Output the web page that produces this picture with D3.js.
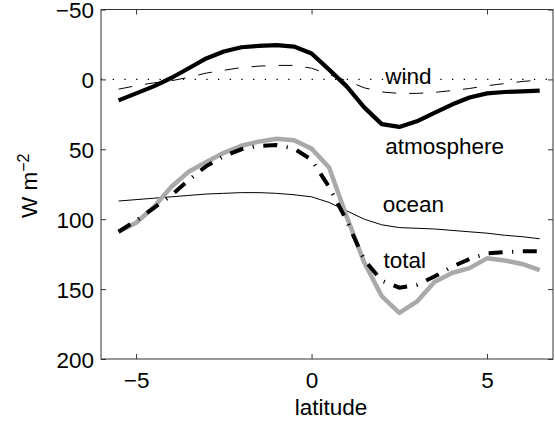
<!DOCTYPE html>
<html>
<head>
<meta charset="utf-8">
<script src="https://cdn.jsdelivr.net/npm/d3@7"></script>
<style>
  html, body { margin: 0; padding: 0; background: #fff; }
  svg { display: block; }
  text { font-family: "Liberation Sans", Arial, Helvetica, sans-serif; fill: #000; }
</style>
</head>
<body>
<svg id="chart" width="555" height="421"></svg>
<script>
// ---- data ----
const latitude = [-5.5, -5.0, -4.5, -4.0, -3.5, -3.0, -2.5, -2.0, -1.5, -1.0, -0.5, 0.0,
                  0.5, 1.0, 1.5, 2.0, 2.5, 3.0, 3.5, 4.0, 4.5, 5.0, 5.5, 6.0, 6.5];
const atmosphere = [15, 10, 5, -1, -8, -15, -20, -23, -24, -24.5, -23.5, -18.5,
                    -7, 5, 20, 32, 34, 30, 24, 18, 13, 10, 9, 8.5, 8];
const wind = [7, 4.5, 2.5, 1, -1.5, -4.5, -6.5, -8.5, -9.5, -10, -10, -8,
              -3.5, 1, 6, 9, 10, 10, 9.3, 8, 6.5, 4.5, 3, 1.5, 0.5];
const ocean = [87, 86, 85, 84, 83, 82, 81.5, 81, 81, 81.5, 82.5, 84,
               88, 94, 100, 104, 106, 106.5, 107, 108, 109, 110, 111.5, 112.5, 114];
const sumFlux = [109, 101, 92, 83, 72, 62, 55, 50, 47.5, 47, 49.5, 57.5,
                 77, 101, 129, 144, 149, 147, 141, 134, 128.5, 124.5, 123.5, 123, 123];
const total = [109, 102.5, 91.5, 77, 66, 59, 52.5, 47.5, 44.5, 42.5, 43.5, 49.5,
               63, 98, 131, 155, 167, 159, 145, 138.5, 135, 128, 129.5, 132, 136.5];
const xTicks = [-5, 0, 5];
const yTicks = [-50, 0, 50, 100, 150, 200];
const curveLabels = [
  { text: "wind", lat: 2.1, val: 3.5 },
  { text: "atmosphere", lat: 2.1, val: 53.5 },
  { text: "ocean", lat: 2.03, val: 95 },
  { text: "total", lat: 2.05, val: 135 }
];

// ---- layout ----
const L = 101, R = 553, T = 9.5, B = 359;
const svg = d3.select("#chart");
const x = d3.scaleLinear().domain([-6, 6.88]).range([L, R]);
const y = d3.scaleLinear().domain([-50, 200]).range([T, B]);
const fmt = d => (d < 0 ? "\u2212" + Math.abs(d) : String(d));
const FS = 22.5;

const line = vals => d3.line().x((d, i) => x(latitude[i])).y(d => y(d))(vals);

// zero dotted line
svg.append("line")
  .attr("x1", L).attr("x2", R).attr("y1", y(0)).attr("y2", y(0))
  .attr("stroke", "#000").attr("stroke-width", 1.3)
  .attr("stroke-dasharray", "1.3,10.4");

// series
svg.append("path").attr("d", line(ocean))
  .attr("fill", "none").attr("stroke", "#000").attr("stroke-width", 1);
svg.append("path").attr("d", line(wind))
  .attr("fill", "none").attr("stroke", "#000").attr("stroke-width", 1)
  .attr("stroke-dasharray", "14,13");
svg.append("path").attr("d", line(atmosphere))
  .attr("fill", "none").attr("stroke", "#000").attr("stroke-width", 4.2)
  .attr("stroke-linejoin", "round");
svg.append("path").attr("d", line(total))
  .attr("fill", "none").attr("stroke", "#a9a9a9").attr("stroke-width", 4.5)
  .attr("stroke-linejoin", "round");
svg.append("path").attr("d", line(sumFlux))
  .attr("fill", "none").attr("stroke", "#000").attr("stroke-width", 4)
  .attr("stroke-dasharray", "14,9.5,1.2,9.5");

// axes (ticks inward, box drawn separately)
const ax = (g, axis) => { g.call(axis); g.select(".domain").remove();
  g.selectAll(".tick line").attr("stroke", "#333");
  g.selectAll(".tick text").attr("font-size", FS).attr("font-family", '"Liberation Sans", Arial, sans-serif').attr("fill", "#000"); };

svg.append("g").attr("transform", `translate(0,${B})`)
  .call(g => ax(g, d3.axisBottom(x).tickValues(xTicks).tickFormat(fmt).tickSizeInner(-5).tickSizeOuter(0).tickPadding(13)));
svg.append("g").attr("transform", `translate(0,${T})`)
  .call(g => ax(g, d3.axisTop(x).tickValues(xTicks).tickFormat("").tickSizeInner(-5).tickSizeOuter(0)));
svg.append("g").attr("transform", `translate(${L},0)`)
  .call(g => ax(g, d3.axisLeft(y).tickValues(yTicks).tickFormat(fmt).tickSizeInner(-5).tickSizeOuter(0).tickPadding(7)));
svg.append("g").attr("transform", `translate(${R},0)`)
  .call(g => ax(g, d3.axisRight(y).tickValues(yTicks).tickFormat("").tickSizeInner(-5).tickSizeOuter(0)));
svg.selectAll(".tick text").attr("dy", function() { return d3.select(this.parentNode.parentNode).attr("transform").startsWith("translate(0") ? "0.71em" : "0.36em"; });

svg.append("rect").attr("x", L).attr("y", T).attr("width", R - L).attr("height", B - T)
  .attr("fill", "none").attr("stroke", "#333").attr("stroke-width", 1);

// curve labels
svg.selectAll("text.curve").data(curveLabels).join("text")
  .attr("class", "curve")
  .attr("x", d => x(d.lat)).attr("y", d => y(d.val))
  .attr("font-size", FS).text(d => d.text);

// axis titles
svg.append("text").attr("x", (L + R) / 2 + 4).attr("y", 415)
  .attr("text-anchor", "middle").attr("font-size", FS).text("latitude");
const yl = svg.append("text").attr("transform", "translate(37,218) rotate(-90)")
  .attr("font-size", FS);
yl.append("tspan").text("W m");
yl.append("tspan").attr("font-size", 16).attr("dy", -8).text("\u22122");
</script>
</body>
</html>
